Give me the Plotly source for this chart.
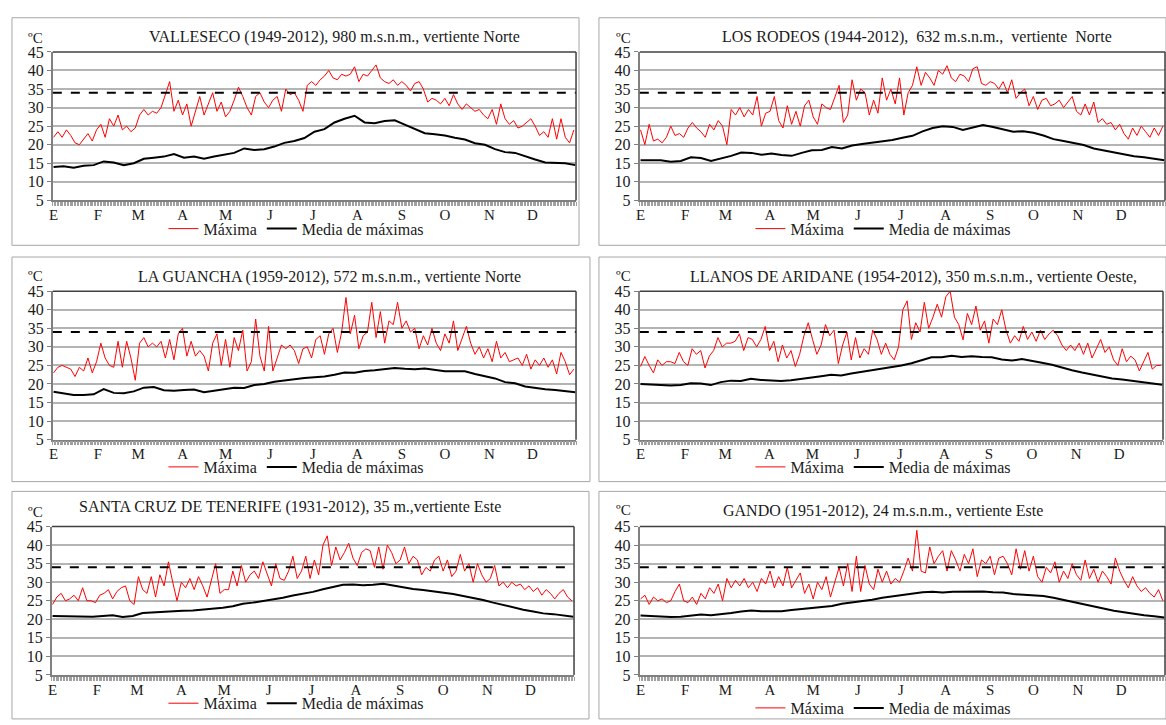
import numpy as np
import plotly.graph_objects as go

# ---------------- DATA ----------------
months = ["E", "F", "M", "A", "M", "J", "J", "A", "S", "O", "N", "D"]
month_start = [1, 32, 60, 91, 121, 152, 182, 213, 244, 274, 305, 335]
umbral = 34  # dashed reference line (ºC)

# Máxima: one value every 3 days (day 1, 4, 7, ...)
valleseco_max = [22, 23.5, 22, 24, 22.5, 20.5, 20, 21.5, 23, 21, 24,
                 25.5, 22, 27, 25, 28, 24, 25, 23.5, 24.5,
                 28, 29.5, 28, 29, 28.5, 30, 33.5, 37, 29, 32,
                 28, 31, 25, 29, 33, 28, 31, 34, 29, 31.5,
                 27.5, 29, 32, 35.5, 33, 30, 28, 33, 34, 31.5,
                 30, 32, 33, 29, 35, 33.5, 34, 32, 29, 36,
                 37, 36, 37.5, 38.5, 40, 38, 37.5, 39, 38.5, 39,
                 41, 37, 39, 38.5, 40, 41.5, 38, 37, 36.5, 37.5,
                 36, 37, 36, 34.5, 36.5, 37, 35, 31.5, 32.5, 32,
                 31, 32.5, 30.5, 33.5, 31, 29.5, 31, 30, 29, 29.5,
                 28, 27, 29.5, 25.5, 31, 27, 25.5, 26.5, 24.5, 25,
                 26, 27, 25, 22.5, 23.5, 22, 27, 21.5, 27, 22, 20.5, 24]
rodeos_max = [24, 20, 25.5, 21, 21.5, 20.5, 22, 25, 22.5, 23, 22,
              24.5, 26, 24.5, 23.5, 22, 25.5, 24, 26.5, 25,
              20, 29.5, 28, 30, 27.5, 29.5, 28, 33, 25, 28.5,
              29, 33, 26.5, 24.5, 30.5, 25.5, 29, 25, 30.5, 32,
              27.5, 25.5, 31, 30, 29.5, 32.5, 36, 26, 28, 37.5,
              32, 35, 34, 28, 32, 28.5, 38, 32, 35, 31,
              38, 28, 34, 36, 41, 36, 39.5, 38, 36, 40,
              39, 41.3, 38, 37, 39, 38.5, 37, 40.5, 41, 36.5,
              36, 37, 36.5, 35, 37, 34, 37.5, 32.5, 34, 35,
              30.5, 33, 29.5, 32, 32.5, 30.5, 31, 32, 30, 31.5,
              33, 29, 28, 31, 28, 31.5, 26, 27, 25.5, 26,
              24, 25.5, 23, 21.5, 24.5, 22.5, 25, 23.5, 22, 24.5, 22.5, 25]
guancha_max = [23, 24.5, 25, 24.5, 24, 22, 24.5, 23.5, 27, 23, 26,
               31, 27, 25, 24.5, 31.5, 24.5, 31.5, 27, 21,
               31, 32.5, 30, 31, 30, 31.5, 27, 32, 26.5, 33.5,
               35, 27.5, 31.5, 27.5, 29, 27.5, 23.5, 31, 33.5, 25,
               32, 24.5, 32.5, 29, 34.5, 23.5, 26, 37.5, 27.5, 23.5,
               35.5, 23.5, 27, 30.5, 29.5, 30.5, 29, 25.5, 29.5, 30,
               27, 32, 33, 28, 33.5, 35, 28.5, 34, 43.3, 33.5,
               38.5, 29.5, 33, 34, 42, 32.5, 39.5, 31, 37, 36,
               42, 35, 37, 34, 35, 29.5, 33, 30.5, 35, 31,
               29, 33.5, 31, 37, 29, 32, 35.5, 31, 28, 30,
               27, 29.5, 26, 31.5, 27, 28.5, 26, 26.5, 27, 25,
               28, 24, 26.5, 25, 27, 24.5, 26.5, 22.7, 28.5, 26, 22.5, 24]
aridane_max = [24.7, 27.4, 25, 23, 26.5, 25, 26, 26, 25.5, 28.5, 26,
               25, 29.5, 28, 29, 24.3, 27.5, 29, 32.5, 30,
               31, 31, 31.5, 33.5, 29, 32.5, 32, 30, 32, 35.5,
               29, 31.5, 26, 30.5, 27, 29, 24.7, 28, 33, 36.5,
               32, 28, 30.5, 36, 33, 34.5, 25.5, 30.5, 34, 26.5,
               32.5, 27, 29.5, 28, 34.5, 32, 28, 31, 28, 26.5,
               30, 40, 42.4, 32, 36.5, 34, 42, 35, 38, 41.5,
               38, 43.5, 45, 38, 36, 31.9, 39, 36, 41, 34.5,
               37, 31, 37.5, 36, 40, 34.5, 31, 33, 31.5, 35.5,
               32, 34, 31.5, 34.5, 32, 33.5, 34.5, 33, 30.5, 29,
               30.5, 29, 31, 28, 31, 27, 29.5, 32, 28.5, 30,
               26.5, 25, 29.5, 26, 27.5, 26.5, 23.5, 26, 28.5, 24, 25, 25]
tenerife_max = [24, 26, 27, 25, 25.5, 26.5, 25, 28.5, 25, 25, 24.5,
                26.5, 27, 28, 25.5, 27.5, 28.5, 29, 25, 24,
                31.5, 28, 27, 31.5, 26, 32, 29, 35.5, 30, 25,
                30, 28.5, 31, 28, 31.5, 29, 26, 30.5, 35, 27,
                28, 28, 33, 29, 34.5, 30, 32, 33, 31, 35.5,
                32, 29, 35, 31, 30.5, 33, 37, 31, 33, 37,
                31, 36, 32, 40, 42.5, 34.5, 39.5, 36, 38, 40.5,
                36.5, 34.5, 38, 39, 38.5, 34, 39.5, 33.5, 40, 38,
                35, 36, 39.5, 35, 37, 36, 32, 34, 33, 36,
                37, 33, 36, 31.5, 33, 37.5, 33, 35, 30, 35,
                32, 30, 31, 34.5, 29, 30, 28.5, 30, 29, 29.5,
                28, 29, 27.5, 28.5, 26.5, 28, 27, 25.5, 27, 28, 26, 25]
gando_max = [25.5, 26.5, 24, 26, 25, 25.5, 24.5, 25, 27.5, 29.5, 25,
             24.5, 26, 24, 27, 25.5, 28.5, 27, 29.5, 25,
             31, 28.5, 30.5, 29, 31, 28.5, 30, 27.5, 31, 29.5,
             33, 28.5, 31.5, 29, 34, 28.5, 30.5, 32.5, 27, 29.5,
             25.5, 30, 28, 31.5, 26, 30, 34, 29, 35, 27.5,
             37, 27.5, 34.5, 29.5, 28, 33.5, 30, 33, 29.5, 31,
             30, 33, 36.5, 33, 44, 33, 32.5, 39.5, 35, 37, 38.5,
             33, 38.5, 36, 33, 37.5, 35, 39, 31.5, 36, 35,
             37, 32, 36.5, 37, 35, 32, 39, 33.5, 38.5, 33,
             37, 31.5, 30, 34, 32.5, 35.5, 30, 33, 31, 35,
             32, 30.5, 36, 31, 33.5, 30, 33, 31.5, 29.5, 36.5,
             33, 30.5, 28.5, 31.5, 29, 27.5, 28.5, 27, 26, 28, 25]

# Media de máximas: one value every 7 days (day 1, 8, ..., 365)
valleseco_media = [14, 14.2, 13.8, 14.3, 14.5, 15.5, 15.2, 14.5, 15, 16.2, 16.5, 16.8, 17.5,
                   16.5, 16.8, 16.2, 16.8, 17.3, 17.8, 19, 18.6, 18.8, 19.5, 20.5, 21, 21.8,
                   23.5, 24.2, 26, 27, 27.8, 26, 25.8, 26.4, 26.6, 25.4, 24.2, 23.1, 22.8,
                   22.5, 21.9, 21.4, 20.4, 20, 18.8, 18, 17.8, 16.8, 16, 15.2, 15, 15, 14.5]
rodeos_media = [15.8, 15.9, 15.8, 15.4, 15.6, 16.6, 16.4, 15.6, 16.2, 17, 17.9, 17.8, 17.3,
                17.6, 17.2, 17, 17.8, 18.5, 18.6, 19.4, 19, 19.8, 20.2, 20.5, 21, 21.3,
                21.9, 22.4, 23.6, 24.5, 25, 24.8, 24, 24.7, 25.3, 24.8, 24.2, 23.5, 23.6,
                23.2, 22.5, 21.5, 21, 20.5, 19.9, 19, 18.5, 17.9, 17.3, 16.9, 16.6, 16.1, 15.8]
guancha_media = [17.9, 17.5, 17, 17, 17.2, 18.6, 17.6, 17.5, 18, 19, 19.2, 18.3, 18.2,
                 18.4, 18.5, 17.8, 18.3, 18.6, 19, 18.9, 19.7, 20, 20.6, 21, 21.3, 21.6,
                 21.8, 22, 22.5, 23.1, 23, 23.5, 23.7, 24, 24.3, 24.1, 24, 24.2, 23.8,
                 23.4, 23.4, 23.4, 22.7, 22.1, 21.5, 20.5, 20.2, 19.3, 18.9, 18.6, 18.4, 18.2, 17.8]
aridane_media = [20, 19.8, 19.7, 19.6, 19.7, 20.2, 20.1, 19.7, 20.5, 20.9, 20.8, 21.4, 21.1,
                 21, 20.8, 21, 21.3, 21.8, 22.1, 22.5, 22.3, 22.8, 23.2, 23.7, 24, 24.6,
                 25, 25.6, 26.5, 27.2, 27.2, 27.6, 27.3, 27.5, 27.3, 27.2, 26.6, 26.3, 26.7,
                 26.1, 25.7, 25.2, 24.4, 23.7, 23.1, 22.5, 22, 21.5, 21.2, 20.8, 20.5, 20.2, 19.8]
tenerife_media = [20.9, 20.8, 20.7, 20.6, 20.7, 20.9, 21.1, 20.6, 20.9, 21.7, 21.9, 22, 22.2,
                  22.3, 22.4, 22.6, 23, 23.1, 23.5, 24.2, 24.5, 24.9, 25.4, 25.8, 26.4, 26.8,
                  27.4, 28.1, 28.8, 29.3, 29.4, 29.2, 29.3, 29.6, 29.1, 28.6, 28.2, 27.9, 27.6,
                  27.3, 26.8, 26.3, 25.8, 25.2, 24.5, 23.8, 23.1, 22.6, 22.1, 21.6, 21.4, 21.1, 20.7]
gando_media = [21, 20.8, 20.6, 20.6, 20.7, 20.9, 21.3, 21.1, 21.3, 21.7, 22.1, 22.4, 22.2,
               22.1, 22.2, 22.5, 22.8, 23.2, 23.3, 23.6, 24.2, 24.5, 24.9, 25.3, 25.8, 26.2,
               26.7, 27, 27.3, 27.4, 27.2, 27.4, 27.5, 27.6, 27.5, 27.3, 27.2, 26.8, 26.7,
               26.5, 26.3, 25.8, 25.2, 24.8, 24.2, 23.6, 23, 22.3, 21.9, 21.4, 21.1, 20.8, 20.5]

titles = ["VALLESECO (1949-2012), 980 m.s.n.m., vertiente Norte",
          "LOS RODEOS (1944-2012),  632 m.s.n.m.,  vertiente  Norte",
          "LA GUANCHA (1959-2012), 572 m.s.n.m., vertiente Norte",
          "LLANOS DE ARIDANE (1954-2012), 350 m.s.n.m., vertiente Oeste,",
          "SANTA CRUZ DE TENERIFE (1931-2012), 35 m.,vertiente Este",
          "GANDO (1951-2012), 24 m.s.n.m., vertiente Este"]
series_max = [valleseco_max, rodeos_max, guancha_max, aridane_max, tenerife_max, gando_max]
series_media = [valleseco_media, rodeos_media, guancha_media, aridane_media, tenerife_media, gando_media]

# ---------------- LAYOUT (geometry in reference pixels) ----------------
W, H = 1166, 725
FONT = "Liberation Serif, Times New Roman, serif"
TXT = "#1a1a1a"
geo = [
    dict(plot=(49, 574, 45, 197), box=(8, 577, 10, 243), title=(332, 30), degc=(32, 31), leg=(160, 226)),
    dict(plot=(638, 1165, 45, 197), box=(597, 1166, 10, 243), title=(916, 30), degc=(622, 31), leg=(749, 226)),
    dict(plot=(49, 574, 290, 442), box=(8, 588, 255, 485), title=(327, 275), degc=(32, 274), leg=(160, 470)),
    dict(plot=(638, 1163, 290, 442), box=(597, 1166, 255, 485), title=(913, 275), degc=(622, 274), leg=(749, 470)),
    dict(plot=(48, 572, 531, 683), box=(8, 587, 495, 728), title=(287, 511), degc=(32, 516), leg=(160, 712)),
    dict(plot=(638, 1165, 531, 683), box=(597, 1166, 495, 728), title=(882, 515), degc=(622, 514), leg=(749, 717)),
]

def px(x):
    return x / W

def py(y):
    return 1 - y / H

fig = go.Figure()
shapes, annotations = [], []
layout = dict(autosize=True, margin=dict(l=0, r=0, t=0, b=0, pad=0),
              paper_bgcolor="white", plot_bgcolor="white",
              font=dict(family=FONT, color=TXT, size=15))

for k in range(6):
    n = k + 1
    sx = "" if n == 1 else str(n)
    g = geo[k]
    x0, x1, y0, y1 = g["plot"]
    leg_name = "legend" if n == 1 else f"legend{n}"

    vmax = series_max[k]
    vmed = series_media[k]
    days_max = 1 + 3 * np.arange(len(vmax))
    days_med = 1 + 7 * np.arange(len(vmed))

    fig.add_trace(go.Scatter(x=days_max, y=vmax, mode="lines", name="Máxima",
                             line=dict(color="#ff0000", width=1),
                             xaxis="x" + sx, yaxis="y" + sx, legend=leg_name))
    fig.add_trace(go.Scatter(x=days_med, y=vmed, mode="lines", name="Media de máximas",
                             line=dict(color="#000000", width=2),
                             xaxis="x" + sx, yaxis="y" + sx, legend=leg_name))

    layout["xaxis" + sx] = dict(
        domain=[px(x0), px(x1)], anchor="y" + sx, range=[0.5, 365.5],
        tickmode="array", tickvals=month_start, ticktext=months,
        ticks="", ticklabelstandoff=0,
        showgrid=False, zeroline=False, showline=True, linecolor="#808080", linewidth=1.5,
        tickfont=dict(family=FONT, size=15, color=TXT),
        minor=dict(tickmode="linear", tick0=0.5, dtick=1, ticks="outside", ticklen=4,
                   tickcolor="#a0a0a0", tickwidth=1, showgrid=False),
        fixedrange=True)
    layout["yaxis" + sx] = dict(
        domain=[py(y1), py(y0)], anchor="x" + sx, range=[5, 45],
        tickmode="array", tickvals=list(range(5, 50, 5)),
        ticks="outside", ticklen=4, tickcolor="#808080",
        showgrid=True, gridcolor="#b4b4b4", gridwidth=1.5,
        zeroline=False, showline=True, linecolor="#808080", linewidth=2,
        tickfont=dict(family=FONT, size=16, color=TXT), fixedrange=True)

    layout[leg_name] = dict(orientation="h", x=px(g["leg"][0]), y=py(g["leg"][1]),
                            xanchor="left", yanchor="middle", bgcolor="rgba(0,0,0,0)",
                            font=dict(family=FONT, size=16, color=TXT),
                            itemwidth=30, traceorder="normal")

    shapes.append(dict(type="line", xref=f"x{sx} domain", yref="y" + sx, x0=0, x1=1,
                       y0=umbral, y1=umbral, line=dict(color="black", width=2, dash="dash")))
    shapes.append(dict(type="line", xref=f"x{sx} domain", yref=f"y{sx} domain",
                       x0=0, x1=1, y0=1, y1=1, line=dict(color="#404040", width=1.5)))
    shapes.append(dict(type="line", xref=f"x{sx} domain", yref=f"y{sx} domain",
                       x0=1, x1=1, y0=0, y1=1, line=dict(color="#404040", width=1.5)))
    bx0, bx1, by0, by1 = g["box"]
    shapes.append(dict(type="rect", xref="paper", yref="paper", x0=px(bx0), x1=px(bx1),
                       y0=py(by1), y1=py(by0), line=dict(color="#a6a6a6", width=1),
                       layer="below"))

    annotations.append(dict(text=titles[k], x=px(g["title"][0]), y=py(g["title"][1]),
                            xref="paper", yref="paper", xanchor="center", yanchor="middle",
                            showarrow=False, font=dict(family=FONT, size=16, color=TXT)))
    annotations.append(dict(text="ºC", x=px(g["degc"][0]), y=py(g["degc"][1]),
                            xref="paper", yref="paper", xanchor="center", yanchor="middle",
                            showarrow=False, font=dict(family=FONT, size=15, color=TXT)))

layout["shapes"] = shapes
layout["annotations"] = annotations
layout["showlegend"] = True
fig.update_layout(**layout)

pin = ("document.documentElement.style.margin='0px';"
       "document.body.style.margin='0px';document.body.style.padding='0px';"
       "document.documentElement.style.overflow='hidden';document.body.style.overflow='hidden';"
       "var gd=document.querySelector('.plotly-graph-div');"
       "gd.style.position='fixed';gd.style.left='0px';gd.style.top='0px';"
       "gd.style.width='100vw';gd.style.height='100vh';"
       "Plotly.Plots.resize(gd);")
fig.write_html("out.html", config={"displayModeBar": False, "responsive": True},
               default_width="100vw", default_height="100vh", post_script=pin)
